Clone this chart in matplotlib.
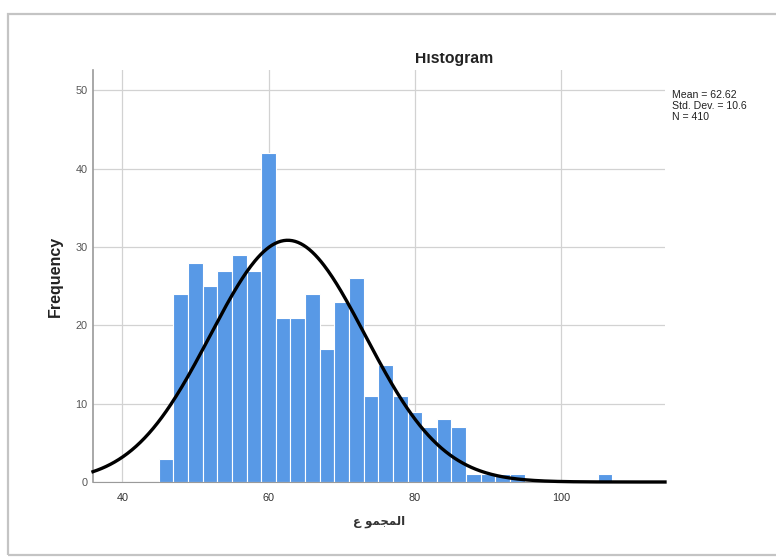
import numpy as np
import matplotlib
matplotlib.use("Agg")
import matplotlib.pyplot as plt
from matplotlib.patches import Rectangle
from matplotlib.transforms import Bbox, TransformedBbox

plt.rcParams['font.family'] = ['Liberation Sans', 'DejaVu Sans']

# bin centres (width 2) and counts
bin_centres = [46, 48, 50, 52, 54, 56, 58, 60, 62, 64, 66, 68, 70, 72, 74,
               76, 78, 80, 82, 84, 86, 88, 90, 92, 94, 106]
counts = [3, 24, 28, 25, 27, 29, 27, 42, 21, 21, 24, 17, 23, 26, 11,
          15, 11, 9, 7, 8, 7, 1, 1, 1, 1, 1]
bin_width = 2

mean = 62.62
std_dev = 10.6
n_cases = 410

x_ticks = [40, 60, 80, 100]
y_ticks = [0, 10, 20, 30, 40, 50]

# arabic axis title, written in presentation forms so it shows joined, right to left
x_title = "\uFEC9 \uFEEE\uFEE4\uFEA0\uFEE4\uFEDF\uFE8D"

W, H = 776, 559
fig = plt.figure(figsize=(W / 100, H / 100), dpi=100)

# the grey frame of the output window
frame = Rectangle((8 / W, 4 / H), 1.2, (555 - 14) / H, transform=fig.transFigure,
                  fill=False, edgecolor='#c4c4c4', linewidth=1.6)
fig.add_artist(frame)

ax = fig.add_axes([93 / W, 1 - 482 / H, (665 - 93) / W, (482 - 70) / H])

ax.bar(bin_centres, counts, width=bin_width, color='#5899e6',
       edgecolor='white', linewidth=0.8, zorder=2)

# fitted normal curve from the stats shown in the box
xs = np.linspace(36, 114.2, 400)
ys = n_cases * bin_width / (std_dev * np.sqrt(2 * np.pi)) * np.exp(-0.5 * ((xs - mean) / std_dev) ** 2)
ax.plot(xs, ys, color='black', linewidth=2.4, zorder=3, clip_on=False)

ax.set_xlim(36, 114.2)
ax.set_ylim(0, 52.6)
ax.set_xticks(x_ticks)
ax.set_yticks(y_ticks)
ax.grid(True, color='#d2d2d2', linewidth=0.9, zorder=0)
ax.set_axisbelow(True)
ax.tick_params(length=0, labelsize=7.8, pad=4)
ax.tick_params(axis='y', colors='#555555', labelcolor='#555555')
ax.tick_params(axis='x', labelcolor='#333333', pad=8)

for side in ['top', 'right']:
    ax.spines[side].set_visible(False)
ax.spines['left'].set_color('#9a9a9a')
ax.spines['bottom'].set_color('#9a9a9a')
ax.spines['left'].set_linewidth(1.2)

fig.text(55 / W, 1 - 276 / H, "Frequency", rotation=90, fontsize=11.5,
         fontweight='bold', color='#222222', ha='center', va='center')
fig.text(379 / W, 1 - 522 / H, x_title, fontsize=8.5, fontweight='bold',
         color='#333333', ha='center', va='center', family=['DejaVu Sans'])

title = fig.text(454 / W, 1 - 63 / H, "Histogram", fontsize=11.3, fontweight='bold',
                 color='#222222', ha='center', va='baseline')
title.set_clip_box(TransformedBbox(Bbox([[0, 0], [1, 1 - 53 / H]]), fig.transFigure))
title.set_clip_on(True)

fig.text(672 / W, 1 - 90 / H, "Mean = %.2f\nStd. Dev. = %s\nN = %d" % (mean, std_dev, n_cases),
         fontsize=7.6, color='#222222', ha='left', va='top', linespacing=1.1)

fig.savefig("out.png", dpi=100)
